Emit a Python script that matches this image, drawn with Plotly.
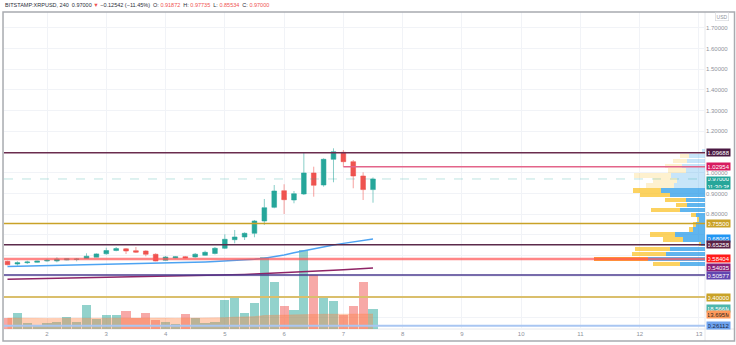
import plotly.graph_objects as go
import pandas as pd

# ---------------- data ----------------
times = pd.date_range("2021-04-01 08:00", periods=38, freq="4h")

opens = [0.5725, 0.5594, 0.5657, 0.5676, 0.5739, 0.5739, 0.5787, 0.5810, 0.5864, 0.5922,
         0.6087, 0.6246, 0.6328, 0.6237, 0.6222, 0.6063, 0.5773, 0.5884, 0.5947, 0.5932,
         0.6014, 0.6102, 0.6353, 0.6768, 0.6898, 0.7077, 0.7671, 0.8332, 0.9134, 0.8685,
         0.8975, 0.9989, 0.9409, 1.0650, 1.0988, 1.0534, 0.9844, 0.91872]
highs = [0.5754, 0.5725, 0.5754, 0.5754, 0.5836, 0.5918, 0.5869, 0.5884, 0.6111, 0.6111,
         0.6381, 0.6415, 0.6367, 0.6415, 0.6256, 0.6111, 0.5981, 0.5966, 0.5981, 0.6126,
         0.6237, 0.6415, 0.7029, 0.7236, 0.7125, 0.7719, 0.8733, 0.9409, 0.9443, 0.9119,
         1.0988, 1.0293, 1.0698, 1.1181, 1.1099, 1.0616, 1.0022, 0.97735]
lows = [0.5532, 0.5512, 0.5594, 0.5657, 0.5709, 0.5676, 0.5773, 0.5725, 0.5850, 0.5918,
        0.6044, 0.6207, 0.6077, 0.6126, 0.5966, 0.5725, 0.5754, 0.5870, 0.5870, 0.5898,
        0.5995, 0.6054, 0.6319, 0.6594, 0.6753, 0.6884, 0.7478, 0.8284, 0.8009, 0.8526,
        0.8926, 0.8844, 0.9327, 0.9540, 1.0293, 0.9250, 0.8685, 0.85534]
closes = [0.5560, 0.5657, 0.5691, 0.5739, 0.5773, 0.5836, 0.5850, 0.5836, 0.5971, 0.6082,
          0.6246, 0.6338, 0.6222, 0.6164, 0.6063, 0.5739, 0.5932, 0.5942, 0.5884, 0.6068,
          0.6159, 0.6353, 0.6787, 0.6898, 0.7077, 0.7671, 0.8313, 0.9119, 0.8699, 0.8989,
          0.9989, 0.9395, 1.0650, 1.1017, 1.0534, 0.9844, 0.91872, 0.97000]

volumes_m = [10.35, 14.31, 5.48, 3.65, 5.48, 6.39, 11.26, 6.09, 22.22, 8.83,
             13.09, 12.48, 16.13, 10.05, 14.31, 7.91, 6.09, 4.26, 13.70, 10.05,
             5.17, 6.39, 26.79, 28.92, 14.92, 24.05, 65.75, 42.92, 21.31, 17.05,
             72.45, 49.31, 28.92, 25.87, 12.78, 21.31, 42.92, 18.566]
volume_ma_m = [10.0, 10.1, 9.9, 9.8, 9.7, 9.6, 9.7, 9.6, 9.9, 9.8,
               9.9, 10.0, 10.2, 10.2, 10.3, 10.2, 10.0, 9.9, 10.0, 10.0,
               9.9, 9.8, 10.3, 10.8, 10.9, 11.3, 12.3, 12.6, 12.7, 12.7,
               13.3, 13.4, 13.5, 13.5, 13.4, 13.5, 13.6, 13.695]

ma_fast = [0.547, 0.548, 0.549, 0.550, 0.551, 0.552, 0.553, 0.554, 0.555, 0.556,
           0.557, 0.558, 0.559, 0.560, 0.561, 0.563, 0.564, 0.565, 0.566, 0.567,
           0.569, 0.571, 0.573, 0.575, 0.578, 0.582, 0.587, 0.594, 0.603, 0.614,
           0.624, 0.634, 0.643, 0.651, 0.659, 0.666, 0.673, 0.68065]
ma_slow = [0.4860, 0.4868, 0.4877, 0.4885, 0.4894, 0.4902, 0.4910, 0.4919, 0.4927, 0.4936,
           0.4944, 0.4952, 0.4961, 0.4969, 0.4978, 0.4986, 0.4995, 0.5003, 0.5012, 0.5020,
           0.5032, 0.5045, 0.5060, 0.5075, 0.5092, 0.5110, 0.5129, 0.5149, 0.5170, 0.5192,
           0.5215, 0.5240, 0.5265, 0.5292, 0.5319, 0.5348, 0.5376, 0.54035]

# visible-range volume profile (rows)
profile_prices = [1.1045, 1.0809, 1.0572, 1.0336, 1.0099, 0.9862, 0.9626, 0.9389, 0.9152, 0.8916,
                  0.8679, 0.8443, 0.8206, 0.7969, 0.7733, 0.7496, 0.7259, 0.7023, 0.6786, 0.6550,
                  0.6313, 0.6076, 0.5840, 0.5603]
profile_up = [3.0, 15.7, 18.3, 23.3, 18.7, 34.3, 28.3, 31.0, 44.0, 35.0,
              19.0, 17.7, 25.0, 9.0, 6.0, 9.0, 11.7, 30.0, 21.7, 4.0,
              35.0, 39.0, 56.7, 25.0]
profile_down = [0.0, 9.3, 14.0, 16.7, 18.7, 36.3, 24.0, 28.0, 28.3, 30.0,
                21.0, 11.7, 28.7, 5.3, 1.7, 2.7, 4.7, 25.0, 20.0, 1.7,
                34.7, 34.0, 54.3, 27.3]
value_area_high = 0.93

# horizontal levels
level_prices = [1.09688, 1.02954, 0.97000, 0.75500, 0.65258, 0.58404, 0.50577, 0.40000, 0.26112]
level_colors = ["#6A2C4E", "#E3648A", "rgba(38,166,154,0.3)", "#C9A227", "#5B2A4B",
                "rgba(255,82,82,0.7)", "#4A3A8F", "#DABF6C", "#A9C6F2"]
level_widths = [1.5, 1.5, 1, 1.5, 1.5, 2.5, 1.5, 2, 2]
level_dash = ["solid", "solid", "dash", "solid", "solid", "solid", "solid", "solid", "solid"]
level_start = [None, "2021-04-07 00:00", None, None, None, None, None, None, None]

# axis label boxes: (value, text, bg, fg, axis)
price_labels = [
    (1.09688, "1.09688", "#4A1942", "white", "y2"),
    (1.02954, "1.02954", "#D81B60", "white", "y2"),
    (0.75500, "0.75500", "#C9A227", "white", "y2"),
    (0.68065, "0.68065", "#2196F3", "white", "y2"),
    (0.65258, "0.65258", "#5B2145", "white", "y2"),
    (0.58404, "0.58404", "#FF1A1A", "white", "y2"),
    (0.54035, "0.54035", "#88207A", "white", "y2"),
    (0.50577, "0.50577", "#6246B0", "white", "y2"),
    (0.40000, "0.40000", "#C9A227", "white", "y2"),
    (0.26112, "0.26112", "#6FA3EE", "#1C2A48", "y2"),
    (18.566, "18.566M", "#4DB6AC", "white", "y"),
    (13.695, "13.695M", "#FF9A5C", "#3A2A20", "y"),
]

y_ticks = [0.3, 0.4, 0.5, 0.6, 0.7, 0.8, 0.9, 1.0, 1.1, 1.2, 1.3, 1.4, 1.5, 1.6, 1.7]
y_tick_shown = [False, True, False, False, False, True, True, True, True, True, True, True, True, True, True]

FONT = "Liberation Sans, Arial, sans-serif"

fig = go.Figure()

# volume bars
vol_colors = ["rgba(38,166,154,0.5)" if c >= o else "rgba(239,83,80,0.5)" for o, c in zip(opens, closes)]
fig.add_trace(go.Bar(x=times, y=volumes_m, marker=dict(color=vol_colors, line=dict(width=0)),
                     width=4 * 3600 * 1000 * 0.93, xaxis="x", yaxis="y", hoverinfo="skip"))
fig.add_trace(go.Scatter(x=times, y=volume_ma_m, mode="lines", line=dict(width=0.5, color="rgba(255,128,64,0.5)"),
                         fill="tozeroy", fillcolor="rgba(255,128,64,0.38)", xaxis="x", yaxis="y", hoverinfo="skip"))

# candles
fig.add_trace(go.Candlestick(
    x=times, open=opens, high=highs, low=lows, close=closes,
    increasing=dict(line=dict(color="rgba(38,166,154,0.55)", width=1), fillcolor="#26A69A"),
    decreasing=dict(line=dict(color="rgba(239,83,80,0.55)", width=1), fillcolor="#EF5350"),
    whiskerwidth=0, xaxis="x", yaxis="y2", hoverinfo="skip"))

# moving averages
fig.add_trace(go.Scatter(x=times, y=ma_fast, mode="lines", line=dict(color="#4DA3F2", width=1.5),
                         xaxis="x", yaxis="y2", hoverinfo="skip"))
fig.add_trace(go.Scatter(x=times, y=ma_slow, mode="lines", line=dict(color="#8E2466", width=1.5),
                         xaxis="x", yaxis="y2", hoverinfo="skip"))

# volume profile
totals = [u + d for u, d in zip(profile_up, profile_down)]
poc = totals.index(max(totals))
up_colors = ["rgba(21,146,230,0.68)" if p <= value_area_high else "rgba(21,146,230,0.24)" for p in profile_prices]
down_colors = []
for i, p in enumerate(profile_prices):
    if i == poc:
        down_colors.append("rgba(255,140,20,0.85)")
    elif p <= value_area_high:
        down_colors.append("rgba(251,193,35,0.72)")
    else:
        down_colors.append("rgba(251,193,35,0.22)")
fig.add_trace(go.Bar(y=profile_prices, x=profile_up, orientation="h", width=0.0215,
                     marker=dict(color=up_colors, line=dict(width=0)), xaxis="x3", yaxis="y2", hoverinfo="skip"))
fig.add_trace(go.Bar(y=profile_prices, x=profile_down, base=profile_up, orientation="h", width=0.0215,
                     marker=dict(color=down_colors, line=dict(width=0)), xaxis="x3", yaxis="y2", hoverinfo="skip"))

# horizontal levels
shapes = []
for p, col, w, d, s in zip(level_prices, level_colors, level_widths, level_dash, level_start):
    if s is None:
        shapes.append(dict(type="line", xref="paper", x0=0, x1=1, yref="y2", y0=p, y1=p,
                           line=dict(color=col, width=w, dash=d), layer="above"))
    else:
        shapes.append(dict(type="line", xref="x", x0=s, x1=times[-1] + pd.Timedelta(days=6), yref="y2", y0=p, y1=p,
                           line=dict(color=col, width=w, dash=d), layer="above"))

# frame and separators
shapes.append(dict(type="rect", xref="paper", yref="paper", x0=-0.0014, x1=1.0421, y0=-0.038, y1=1.0,
                   line=dict(color="#A8ABB0", width=1.5), layer="above"))
shapes.append(dict(type="line", xref="paper", yref="paper", x0=1, x1=1, y0=-0.038, y1=1,
                   line=dict(color="#E6E8EC", width=1), layer="below"))
shapes.append(dict(type="line", xref="paper", yref="paper", x0=0, x1=1.0421, y0=0, y1=0,
                   line=dict(color="#E6E8EC", width=1), layer="below"))

annotations = []
for v, txt, bg, fg, ax in price_labels:
    annotations.append(dict(x=1, xref="paper", xanchor="left", xshift=1, y=v, yref=ax, yanchor="middle",
                            text=txt, showarrow=False, bgcolor=bg, borderpad=1, width=21, height=5,
                            font=dict(family=FONT, size=6, color=fg)))
annotations.append(dict(x=1, xref="paper", xanchor="left", xshift=1, y=0.97, yref="y2", yanchor="top", yshift=3,
                        text="0.97000<br>01:30:38", showarrow=False, bgcolor="#26A69A", borderpad=1,
                        width=21, height=10, font=dict(family=FONT, size=6, color="white")))
annotations.append(dict(x=1.0236, xref="paper", xanchor="center", y=1, yref="paper", yanchor="middle", yshift=-4,
                        text="USD", showarrow=False, bordercolor="#D0D3D8", borderwidth=0.6, borderpad=1,
                        font=dict(family=FONT, size=5, color="#8F939C")))
red = "#EF5350"
header = ("BITSTAMP:XRPUSD, 240&nbsp; 0.97000 <span style='color:%s'>▼</span> −0.12542 (−11.45%%)&nbsp; "
          "O: <span style='color:%s'>0.91872</span>&nbsp; H: <span style='color:%s'>0.97735</span>&nbsp; "
          "L: <span style='color:%s'>0.85534</span>&nbsp; C: <span style='color:%s'>0.97000</span>") % (red, red, red, red, red)
annotations.append(dict(x=0, xref="paper", xanchor="left", xshift=-1, y=1, yref="paper", yanchor="middle", yshift=7,
                        text=header, showarrow=False, font=dict(family=FONT, size=5.5, color="#2A2E39")))

fig.update_layout(
    width=736, height=345,
    margin=dict(l=4, r=31, t=12, b=16),
    paper_bgcolor="white", plot_bgcolor="white",
    showlegend=False, barmode="overlay", bargap=0, boxgap=0.32,
    xaxis=dict(type="date", range=["2021-04-01 06:35", "2021-04-13 02:26"], tickformat="%-d",
               dtick=86400000, tick0="2021-04-02", showgrid=True, gridcolor="#F1F3F7", gridwidth=1,
               zeroline=False, showline=False, ticks="", rangeslider=dict(visible=False),
               tickfont=dict(family=FONT, size=6, color="#8F939C")),
    yaxis=dict(range=[0, 289.5], visible=False, showgrid=False, zeroline=False),
    yaxis2=dict(overlaying="y", side="right", range=[0.2455, 1.7763], tickvals=y_ticks,
                ticktext=[("%.5f" % t) if s else "" for t, s in zip(y_ticks, y_tick_shown)],
                showgrid=True, gridcolor="#F1F3F7", gridwidth=1, zeroline=False, showline=False, ticks="",
                tickfont=dict(family=FONT, size=6, color="#8F939C")),
    xaxis3=dict(overlaying="x", range=[701, 0], visible=False, showgrid=False, zeroline=False),
    shapes=shapes, annotations=annotations,
)

fig.write_html("out.html")
